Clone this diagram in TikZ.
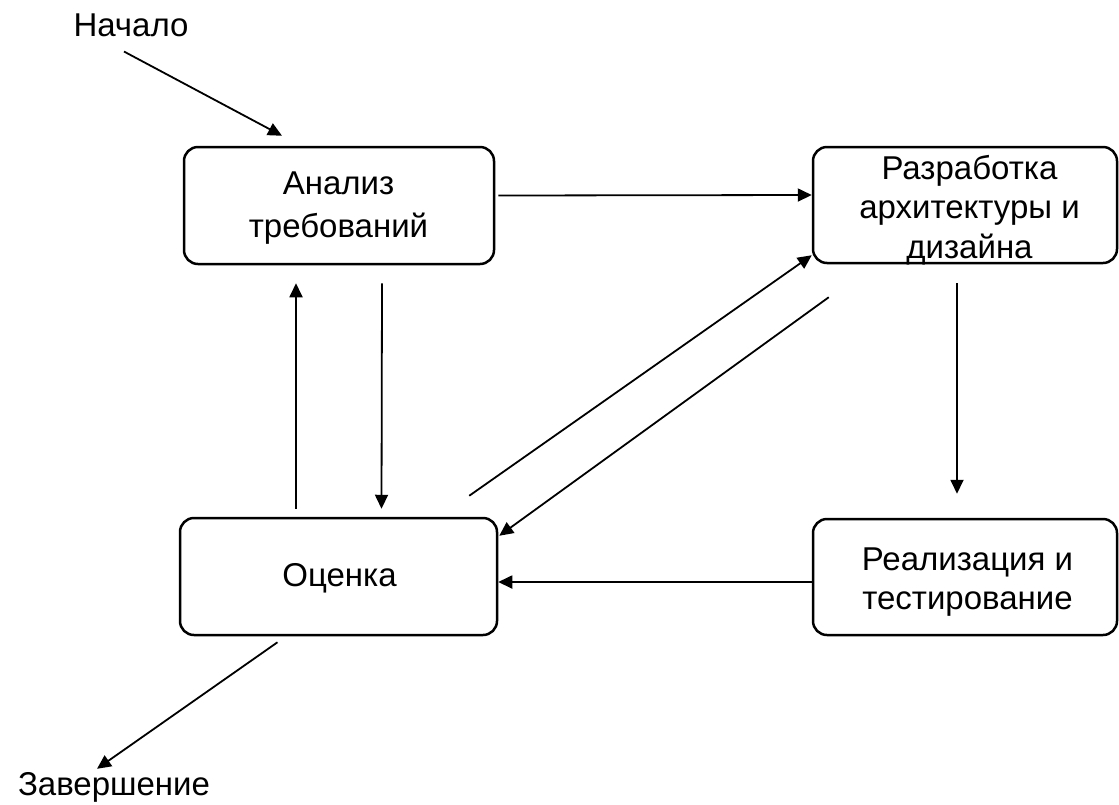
\documentclass[tikz,border=0pt]{standalone}
\usepackage{fontspec}
\setmainfont{Liberation Sans}
\usetikzlibrary{arrows.meta}

\begin{document}
\begin{tikzpicture}[x=1pt, y=-1pt,
  stage/.style={draw, line width=2.5pt, rounded corners=14pt, inner sep=0pt},
  stagetext/.style={inner sep=0pt, align=center, font=\fontsize{33}{39.5}\selectfont},
  label/.style={inner sep=0pt, font=\fontsize{33}{40}\selectfont},
  flow/.style={line width=1.8pt, -{Triangle[length=14pt, width=13pt]}}]
\useasboundingbox (0, 0) rectangle (1119, 804);
% Этапы
\node[stage, minimum width=310pt, minimum height=117pt] (anal) at (339, 205.5) {};
\node[stage, minimum width=304pt, minimum height=116pt] (razr) at (965, 205) {};
\node[stage, minimum width=317pt, minimum height=117pt] (ocen) at (338.5, 576.5) {};
\node[stage, minimum width=304pt, minimum height=116pt] (real) at (965, 577) {};
% Тексты
\node[stagetext, font=\fontsize{33}{43}\selectfont] (analtxt) at (338.5, 208) {Анализ\\требований};
\node[stagetext] (razrtxt) at (969.5, 210) {Разработка\\архитектуры и\\дизайна};
\node[stagetext] (ocentxt) at (339.5, 578) {Оценка};
\node[stagetext] (realtxt) at (967.5, 582) {Реализация и\\тестирование};
\node[label, anchor=base] (nach) at (131, 36) {Начало};
\node[label, anchor=base] (zav) at (114, 795) {Завершение};
% Стрелки
\draw[flow] ([shift={(-7, 15)}]nach.south) -- ([shift={(-57, -10)}]anal.north);
\draw[flow] ([shift={(3, -10)}]anal.east) -- ([shift={(0, -10)}]razr.west);
\draw[flow] ([shift={(43, 18)}]anal.south) -- ([shift={(43, -8)}]ocen.north);
\draw[flow] ([shift={(-42.5, -8)}]ocen.north) -- ([shift={(-43, 18)}]anal.south);
\draw[flow] ([shift={(-8, 19)}]razr.south) -- ([shift={(-8, -24)}]real.north);
\draw[flow] ([shift={(0, 5)}]real.west) -- ([shift={(0, 5.5)}]ocen.east);
\draw[flow] ([shift={(-29, -21)}]ocen.north east) -- ([shift={(0, -9)}]razr.south west);
\draw[flow] ([shift={(17, 33)}]razr.south west) -- ([shift={(1, 19)}]ocen.north east);
\draw[flow] ([shift={(-61, 6)}]ocen.south) -- ([shift={(-17, -3)}]zav.north);
\end{tikzpicture}
\end{document}
